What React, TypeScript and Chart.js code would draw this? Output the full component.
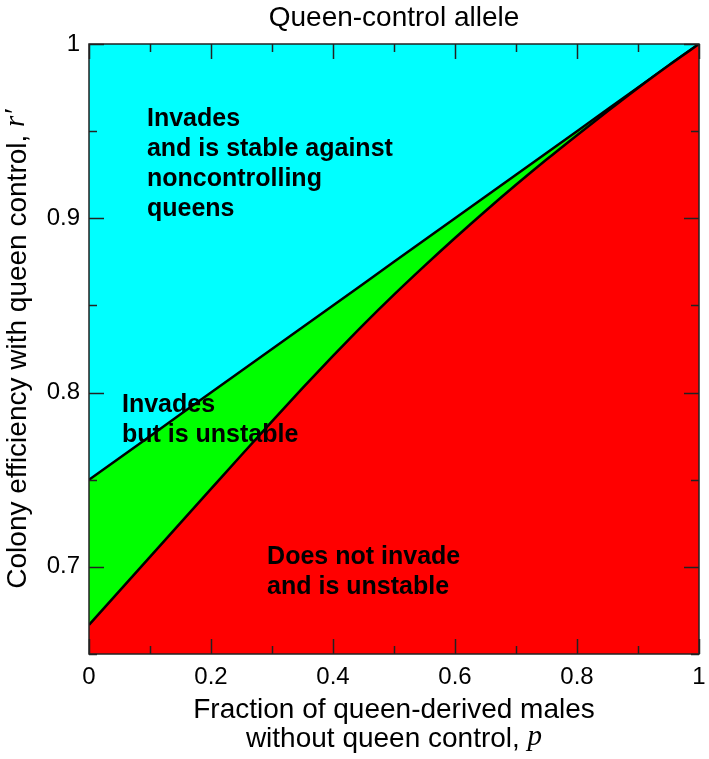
import React, { useEffect, useRef } from 'react';
import { Chart, registerables } from 'chart.js';

Chart.register(...registerables);

// Fraction of queen-derived males without queen control, p
const pValues = [0, 0.05, 0.1, 0.15, 0.2, 0.25, 0.3, 0.35, 0.4, 0.45, 0.5, 0.55, 0.6, 0.65, 0.7, 0.75, 0.8, 0.85, 0.9, 0.95, 1];
// Lower boundary (invasion threshold)
const lowerBoundary = [0.6667, 0.6862, 0.7057, 0.7252, 0.7447, 0.7642, 0.7835, 0.8025, 0.821, 0.839, 0.8562, 0.8727, 0.8887, 0.9042, 0.9192, 0.9337, 0.9477, 0.9614, 0.9748, 0.9877, 1.0];
// Upper boundary (stability threshold)
const upperBoundary = [0.75, 0.7625, 0.775, 0.7875, 0.8, 0.8125, 0.825, 0.8375, 0.85, 0.8625, 0.875, 0.8875, 0.9, 0.9125, 0.925, 0.9375, 0.95, 0.9625, 0.975, 0.9875, 1.0];

const xMajorTicks = [0, 0.2, 0.4, 0.6, 0.8, 1];
const xTickLabels = ['0', '0.2', '0.4', '0.6', '0.8', '1'];
const xMinorTicks = [0.1, 0.3, 0.5, 0.7, 0.9];
const yMajorTicks = [0.7, 0.8, 0.9, 1];
const yTickLabels = ['0.7', '0.8', '0.9', '1'];
const yMinorTicks = [0.65, 0.75, 0.85, 0.95];

const chartTitle = 'Queen-control allele';
const xTitleLine1 = 'Fraction of queen-derived males';
const xTitleLine2 = 'without queen control, ';
const xTitleVar = 'p';
const yTitleText = 'Colony efficiency with queen control, ';
const yTitleVar = 'r\u2032';

const regionLabels = [
  { x: 0.095, y: 0.9567, lines: ['Invades', 'and is stable against', 'noncontrolling', 'queens'] },
  { x: 0.054, y: 0.7929, lines: ['Invades', 'but is unstable'] },
  { x: 0.292, y: 0.7057, lines: ['Does not invade', 'and is unstable'] },
];

const SANS = '"Liberation Sans", Arial, Helvetica, sans-serif';
const SERIF = '"Liberation Serif", "Times New Roman", serif';
const TITLE_PX = 28;
const VAR_PX = 29;

const framePlugin = {
  id: 'frame',
  afterDatasetsDraw(chart: any) {
    const { ctx, chartArea: a, scales } = chart;
    const x = scales.x;
    const y = scales.y;
    ctx.save();
    // region labels
    ctx.fillStyle = '#000';
    ctx.font = `bold 25px ${SANS}`;
    ctx.textAlign = 'left';
    ctx.textBaseline = 'middle';
    regionLabels.forEach((r) => {
      const px = x.getPixelForValue(r.x);
      const py = y.getPixelForValue(r.y);
      r.lines.forEach((t, i) => ctx.fillText(t, px, py + i * 30));
    });
    // ticks
    ctx.strokeStyle = '#222';
    ctx.lineWidth = 1.5;
    const seg = (x1: number, y1: number, x2: number, y2: number) => {
      ctx.beginPath();
      ctx.moveTo(x1, y1);
      ctx.lineTo(x2, y2);
      ctx.stroke();
    };
    const xt = (vals: number[], len: number) =>
      vals.forEach((v) => {
        const px = Math.round(x.getPixelForValue(v)) + 0.5;
        seg(px, a.bottom, px, a.bottom - len);
        seg(px, a.top, px, a.top + len);
      });
    const yt = (vals: number[], len: number) =>
      vals.forEach((v) => {
        const py = Math.round(y.getPixelForValue(v)) + 0.5;
        seg(a.left, py, a.left + len, py);
        seg(a.right, py, a.right - len, py);
      });
    xt(xMajorTicks, 15);
    xt(xMinorTicks, 8);
    yt(yMajorTicks, 15);
    yt(yMinorTicks, 8);
    ctx.lineWidth = 1.5;
    ctx.strokeRect(a.left, a.top, a.right - a.left, a.bottom - a.top);
    ctx.restore();
  },
  afterDraw(chart: any) {
    const { ctx, chartArea: a } = chart;
    const cx = (a.left + a.right) / 2;
    ctx.save();
    ctx.fillStyle = '#000';
    ctx.textBaseline = 'middle';
    // title
    ctx.font = `${TITLE_PX}px ${SANS}`;
    ctx.textAlign = 'center';
    ctx.fillText(chartTitle, cx, 18);
    // x title
    ctx.fillText(xTitleLine1, cx, 710);
    const w1 = ctx.measureText(xTitleLine2).width;
    ctx.font = `italic ${VAR_PX}px ${SERIF}`;
    const w2 = ctx.measureText(xTitleVar).width;
    const sx = cx - (w1 + w2) / 2;
    ctx.textAlign = 'left';
    ctx.font = `${TITLE_PX}px ${SANS}`;
    ctx.fillText(xTitleLine2, sx, 739);
    ctx.font = `italic ${VAR_PX}px ${SERIF}`;
    ctx.fillText(xTitleVar, sx + w1, 737);
    // y title
    ctx.translate(18, (a.top + a.bottom) / 2);
    ctx.rotate(-Math.PI / 2);
    ctx.font = `${TITLE_PX}px ${SANS}`;
    const v1 = ctx.measureText(yTitleText).width;
    ctx.font = `italic ${VAR_PX}px ${SERIF}`;
    const v2 = ctx.measureText(yTitleVar).width;
    const sy = -(v1 + v2) / 2;
    ctx.font = `${TITLE_PX}px ${SANS}`;
    ctx.fillText(yTitleText, sy, 0);
    ctx.font = `italic ${VAR_PX}px ${SERIF}`;
    ctx.fillText(yTitleVar, sy + v1, -2);
    ctx.restore();
  },
};

export default function App() {
  const ref = useRef<HTMLCanvasElement | null>(null);
  useEffect(() => {
    if (!ref.current) return;
    const lower = pValues.map((p, i) => ({ x: p, y: lowerBoundary[i] }));
    const upper = pValues.map((p, i) => ({ x: p, y: upperBoundary[i] }));
    const chart = new Chart(ref.current, {
      type: 'line',
      data: {
        datasets: [
          {
            data: lower,
            borderColor: '#000',
            borderWidth: 2.5,
            backgroundColor: '#ff0000',
            fill: 'start',
            pointRadius: 0,
            cubicInterpolationMode: 'monotone',
          },
          {
            data: upper,
            borderColor: '#000',
            borderWidth: 2.5,
            backgroundColor: '#00ff00',
            fill: 0,
            pointRadius: 0,
          },
          {
            data: upper,
            borderColor: 'rgba(0,0,0,0)',
            borderWidth: 0,
            backgroundColor: '#00ffff',
            fill: 'end',
            pointRadius: 0,
          },
        ],
      },
      options: {
        animation: false,
        responsive: true,
        maintainAspectRatio: false,
        layout: { padding: { top: 44, right: 10, left: 0, bottom: 0 } },
        plugins: {
          legend: { display: false },
          tooltip: { enabled: false },
          title: { display: false },
        },
        scales: {
          x: {
            type: 'linear',
            min: 0,
            max: 1,
            grid: { display: false, drawTicks: false },
            border: { display: false },
            afterBuildTicks: (s: any) => {
              s.ticks = xMajorTicks.map((v) => ({ value: v }));
            },
            afterFit: (s: any) => {
              s.height = 105;
              s.paddingLeft = 0;
              s.paddingRight = 0;
            },
            ticks: {
              color: '#000',
              font: { family: SANS, size: 24 },
              padding: 9,
              maxRotation: 0,
              autoSkip: false,
              callback: (_v: any, i: number) => xTickLabels[i],
            },
          },
          y: {
            type: 'linear',
            min: 0.65,
            max: 1,
            grid: { display: false, drawTicks: false },
            border: { display: false },
            afterBuildTicks: (s: any) => {
              s.ticks = yMajorTicks.map((v) => ({ value: v }));
            },
            afterFit: (s: any) => {
              s.width = 89;
              s.paddingTop = 0;
              s.paddingBottom = 0;
            },
            ticks: {
              color: '#000',
              font: { family: SANS, size: 24 },
              padding: 9,
              autoSkip: false,
              callback: (_v: any, i: number) => yTickLabels[i],
            },
          },
        },
      },
      plugins: [framePlugin],
    });
    return () => chart.destroy();
  }, []);
  return (
    <div style={{ position: 'fixed', left: 0, top: 0, width: 709, height: 759, background: '#fff' }}>
      <canvas ref={ref} />
    </div>
  );
}
